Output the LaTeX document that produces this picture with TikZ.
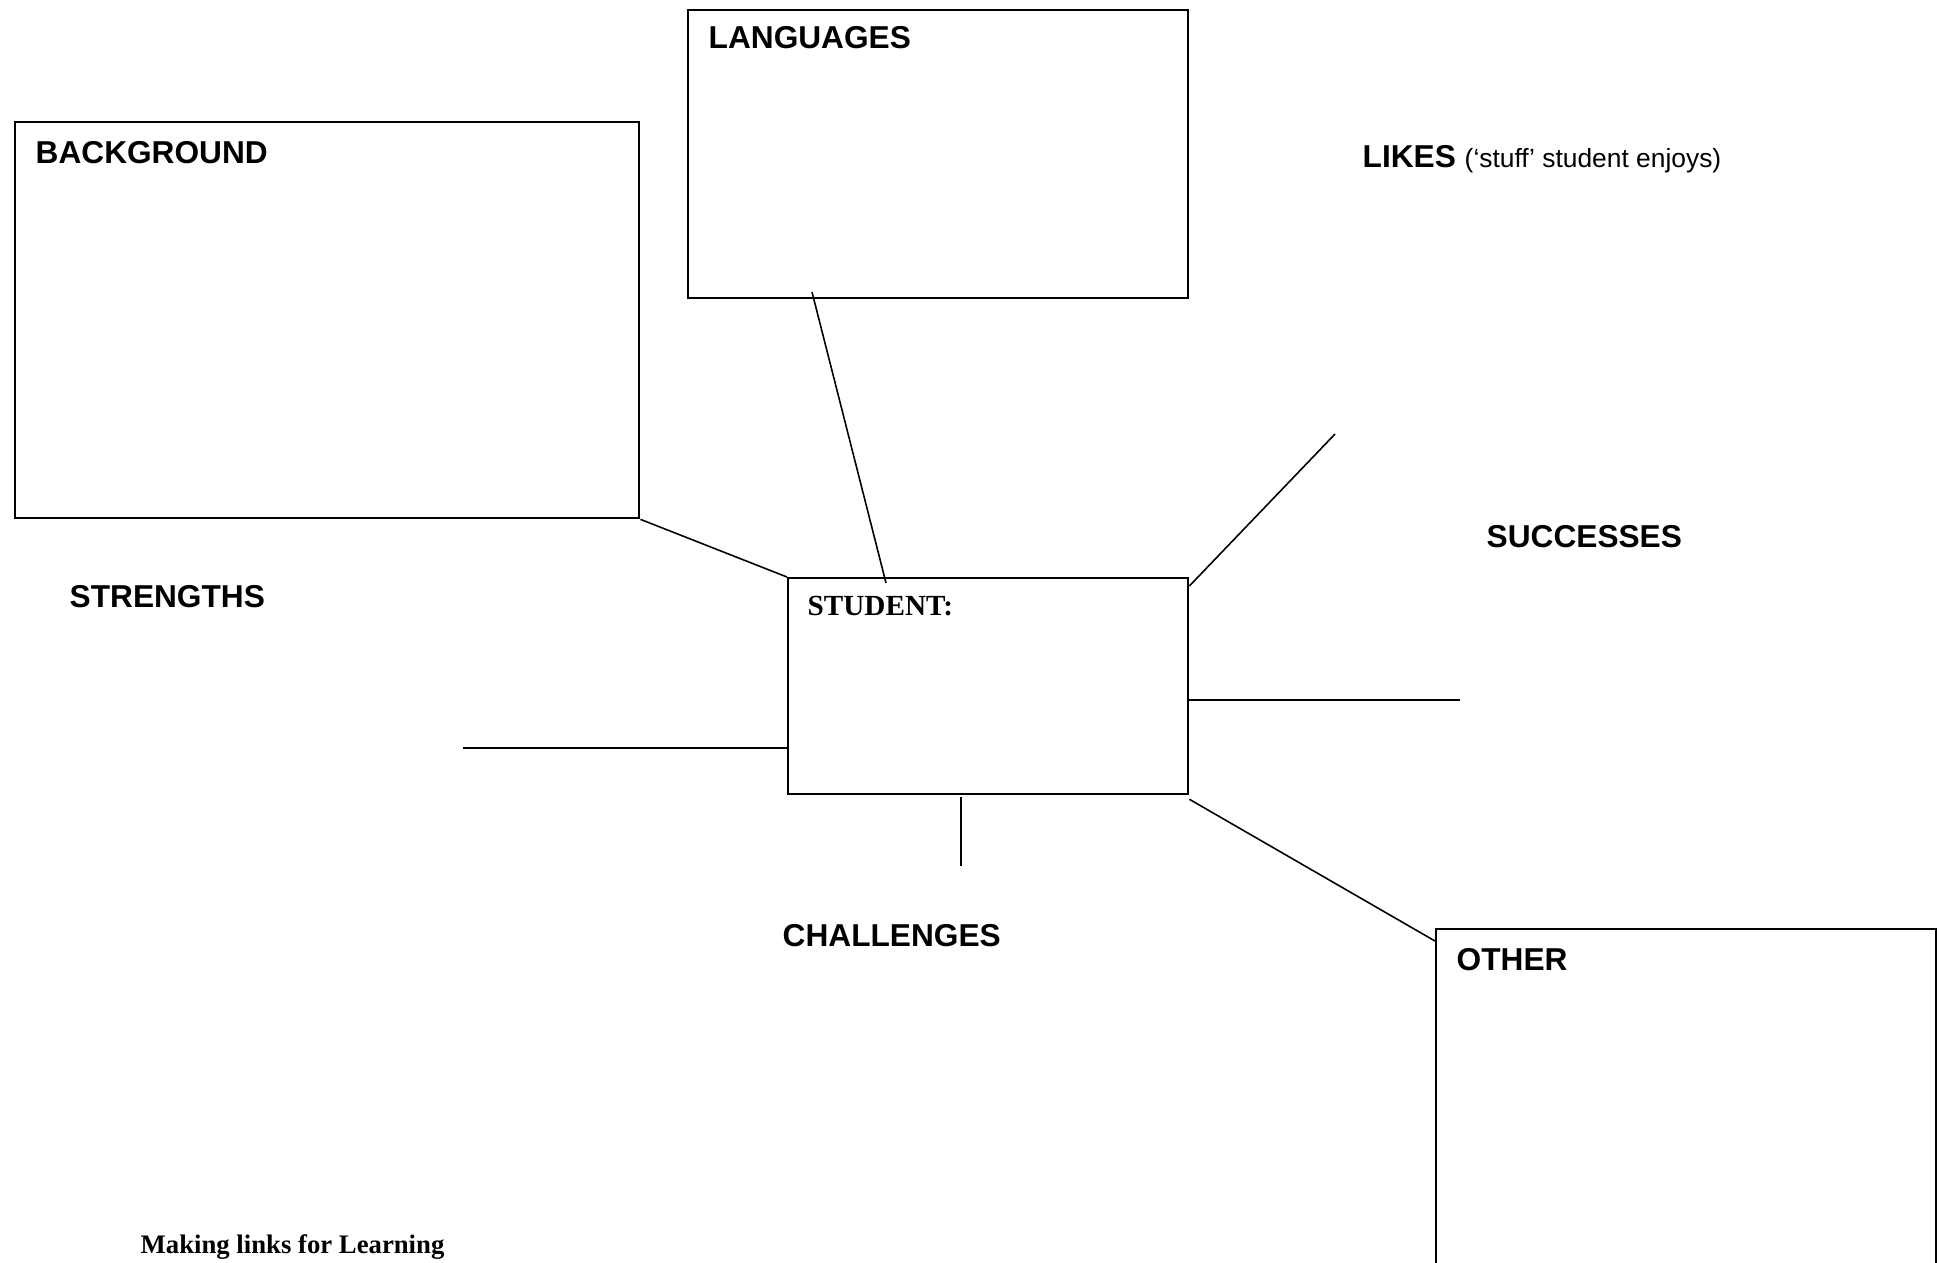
\documentclass[tikz,border=0pt]{standalone}
\usepackage{fontspec}
\setmainfont{Liberation Serif}
\setsansfont{Liberation Sans}
\usetikzlibrary{positioning}

\begin{document}
\begin{tikzpicture}[
		x = 0.01cm, y = -0.01cm,
		panel/.style = {rectangle, draw, line width = 0.6pt, anchor = north west, inner sep = 0pt},
		heading/.style = {anchor = base west, inner sep = 0pt, font = \sffamily\bfseries\fontsize{9pt}{11pt}\selectfont},
		serifhead/.style = {anchor = base west, inner sep = 0pt, font = \rmfamily\bfseries\fontsize{8.3pt}{10pt}\selectfont},
		link/.style = {line width = 0.45pt},
	]
	\clip (0,0) rectangle (1940,1262);

	% boxes
	\node[panel, minimum width = 5cm, minimum height = 2.88cm](lang) at (687,9){};
	\node[panel, minimum width = 6.24cm, minimum height = 3.96cm](bg) at (14,121){};
	\node[panel, minimum width = 4cm, minimum height = 2.16cm](student) at (787,577){};
	\node[panel, minimum width = 5cm, minimum height = 4cm](other) at (1435,928){};

	% labels
	\node[heading](langlabel) at (708,48){LANGUAGES};
	\node[heading](bglabel) at (35,163){BACKGROUND};
	\node[heading](likes) at (1362,167){LIKES {\mdseries\fontsize{7.5pt}{9pt}\selectfont (‘stuff’ student enjoys)}};
	\node[heading](successes) at (1486,547){SUCCESSES};
	\node[heading](strengths) at (69,607){STRENGTHS};
	\node[serifhead](studentlabel) at (807,615){STUDENT:};
	\node[heading](challenges) at (782,946){CHALLENGES};
	\node[heading](otherlabel) at (1456,970){OTHER};
	\node[serifhead, font = \rmfamily\bfseries\fontsize{7.6pt}{9pt}\selectfont](footer) at (140,1253){Making links for Learning};

	% free ends
	\coordinate(langfoot) at (812,292);
	\coordinate(studenttop) at (886,583);
	\coordinate(succstub) at (1335,434);
	\coordinate(likesstub) at (1460,700);
	\coordinate(strstub) at (463,748);
	\coordinate(chaltop) at (961,797);
	\coordinate(chalstub) at (961,866);

	\draw[link](bg.south east)--(student.north west);
	\draw[link](langfoot)--(studenttop);
	\draw[link]([yshift=-0.09cm]student.north east)--(succstub);
	\draw[link](student.east |- likesstub)--(likesstub);
	\draw[link](strstub)--(strstub -| student.west);
	\draw[link](chaltop)--(chalstub);
	\draw[link]([yshift=-0.04cm]student.south east)--([yshift=-0.13cm]other.north west);

\end{tikzpicture}
\end{document}
